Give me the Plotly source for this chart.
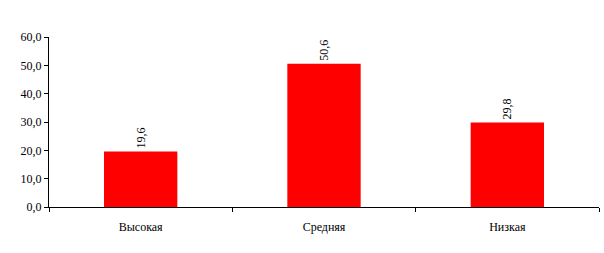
import plotly.graph_objects as go

categories = ["Высокая", "Средняя", "Низкая"]
values = [19.6, 50.6, 29.8]
y_ticks = [0, 10, 20, 30, 40, 50, 60]

font_family = "'Times New Roman', 'Liberation Serif', 'DejaVu Serif', serif"

fig = go.Figure(
    go.Bar(
        x=categories,
        y=values,
        marker=dict(color="#ff0000", line=dict(width=0)),
        width=0.4,
        texttemplate="%{y:.1f}",
        textposition="outside",
        textangle=-90,
        textfont=dict(family=font_family, size=12, color="black"),
        cliponaxis=False,
    )
)

fig.update_layout(
    width=604,
    height=253,
    margin=dict(l=49, r=5, t=37, b=46),
    paper_bgcolor="white",
    plot_bgcolor="white",
    separators=", ",
    showlegend=False,
    font=dict(family=font_family, size=12, color="black"),
)

fig.update_xaxes(
    showline=True,
    linecolor="black",
    linewidth=1,
    ticks="outside",
    tickson="boundaries",
    ticklen=4,
    tickcolor="black",
    showgrid=False,
    ticklabelstandoff=9,
    tickfont=dict(family=font_family, size=12, color="black"),
)

fig.update_yaxes(
    range=[0, 60],
    tickvals=y_ticks,
    tickformat=".1f",
    showline=True,
    linecolor="black",
    linewidth=1,
    ticks="outside",
    ticklen=4,
    tickcolor="black",
    showgrid=False,
    zeroline=False,
    tickfont=dict(family=font_family, size=12, color="black"),
)

fig.write_html("out.html")
